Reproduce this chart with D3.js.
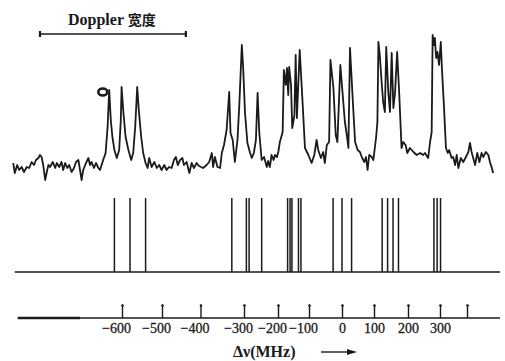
<!DOCTYPE html>
<html>
<head>
<meta charset="utf-8">
<script src="https://cdn.jsdelivr.net/npm/d3@7"></script>
<style>
  body { margin: 0; background: #fff; }
  svg { display: block; }
  text { fill: #1a1a1a; }
</style>
</head>
<body>
<svg id="chart" width="505" height="361"></svg>
<script>
// frequency axis ticks (MHz); the last tick carries no label
const tickValues = [-600, -500, -400, -300, -200, -100, 0, 100, 200, 300, 400];
const tickLabels = ['\u2212600', '\u2212500', '\u2212400', '\u2212300', '\u2212200', '\u2212100', '0', '100', '200', '300', ''];

// calculated components (MHz), all drawn with the same height
const stickFreq = [-619, -580, -541, -328, -293, -285, -248, -169, -161, -155, -134, -126,
  -27, 0, 30, 124, 140, 156, 172, 281, 291, 302];

// recorded trace, [MHz, signal]
const trace = [
  [-872,27],[-868,17],[-862,25],[-857,20],[-851,23],[-845,18],[-838,23],[-832,22],[-826,28],[-820,25],
  [-815,30],[-809,32],[-805,35],[-801,33],[-797,25],[-792,10],[-788,18],[-784,25],[-780,23],[-773,28],
  [-767,22],[-763,27],[-757,23],[-751,28],[-747,20],[-742,27],[-737,22],[-732,25],[-726,18],[-720,22],
  [-715,28],[-709,30],[-705,20],[-701,10],[-697,20],[-690,27],[-684,32],[-680,25],[-676,28],[-670,22],
  [-665,27],[-659,22],[-655,20],[-651,25],[-647,30],[-641,37],[-636,63],[-632,100],[-628,70],[-624,53],
  [-619,40],[-613,32],[-607,40],[-603,70],[-601,103],[-597,80],[-591,53],[-584,40],[-577,30],[-572,37],
  [-567,63],[-562,103],[-558,80],[-552,53],[-547,37],[-541,27],[-536,22],[-532,32],[-526,23],[-519,28],
  [-513,22],[-507,25],[-501,20],
  [-494,25],[-488,20],[-482,23],[-475,22],[-469,30],[-464,33],[-459,25],[-453,30],[-447,32],[-443,25],
  [-436,28],[-429,17],[-423,27],[-417,22],[-410,27],[-404,24],
  [-394,22],[-386,25],[-380,28],[-374,37],[-371,23],[-367,33],[-361,23],[-355,22],[-351,37],[-346,45],
  [-340,60],[-334,98],[-331,57],[-326,50],[-321,28],[-315,50],[-311,83],[-305,145],[-302,123],
  [-297,77],[-290,47],[-282,37],[-277,32],[-271,37],[-265,50],[-260,97],[-255,57],[-248,30],[-241,33],
  [-233,23],[-229,29],[-224,23],[-219,35],[-213,30],[-209,35],[-203,33],
  [-199,38],[-194,48],[-185,58],[-181,120],[-175,105],[-171,122],[-167,95],[-164,123],[-158,105],[-154,62],
  [-147,75],[-143,135],[-139,72],[-130,140],[-122,95],[-113,42],[-102,35],
  [-92,27],[-84,35],[-77,50],[-72,40],[-64,32],[-57,38],[-52,27],[-46,45],[-39,48],[-35,130],
  [-26,102],[-19,55],[-14,48],[-5,125],
  [4,88],[9,68],[15,55],[20,42],[25,142],[35,82],[41,48],[49,40],[56,38],[63,32],
  [70,28],[75,33],[80,20],[85,35],[93,33],[98,30],
  [106,52],[110,68],[113,148],[117,135],[123,105],[127,88],[132,78],[136,143],[142,98],[147,78],
  [152,137],[157,82],[162,98],[168,138],[174,98],[181,42],[186,48],[193,45],[198,37],
  [206,42],[217,38],[227,35],[238,37],[247,35],[253,37],[263,32],[269,48],[274,58],[277,155],
  [281,145],[284,152],[288,132],[292,138],[297,125],
  [303,148],[307,122],[315,82],[322,42],[329,37],[334,40],[343,32],[349,33],[356,25],[362,35],
  [368,22],[377,32],[386,28],[396,33],[405,38],[411,47],[417,38],[423,32],[430,25],[438,37],
  [446,28],[454,37],[460,33],[470,38],[479,35],[485,28],[491,23],[497,17]
];

// Doppler width bar (MHz) and the ink loop on the first peak
const dopplerWidth = [-805, -438];
const penMark = [-648, 98];
const lineExtent = [-868, 522];

const ink = '#1a1a1a';
const svg = d3.select('#chart');

// the printed axis is not quite even, so the scale follows the tick marks
const x = d3.scaleLinear()
  .domain(tickValues)
  .range([122, 162, 200.5, 244, 278, 309, 342, 374, 408, 440, 467]);
const y = d3.scaleLinear().domain([0, 160]).range([190, 30]);
const ys = d3.scaleLinear().domain([0, 1]).range([272, 198]);

// title + Doppler bar
const title = svg.append('text').attr('x', 68).attr('y', 25);
title.append('tspan').attr('font-family', 'Liberation Serif').attr('font-size', 16).attr('font-weight', 700).text('Doppler ');
title.append('tspan').attr('font-family', 'Noto Sans CJK SC').attr('font-size', 14).attr('font-weight', 700).text('宽度');

svg.append('line')
  .attr('x1', x(dopplerWidth[0])).attr('x2', x(dopplerWidth[1]))
  .attr('y1', 34).attr('y2', 34)
  .attr('stroke', ink).attr('stroke-width', 1.6);
svg.selectAll('.cap')
  .data(dopplerWidth)
  .enter()
  .append('line')
  .attr('class', 'cap')
  .attr('x1', d => x(d)).attr('x2', d => x(d))
  .attr('y1', 31).attr('y2', 37)
  .attr('stroke', ink).attr('stroke-width', 2.2);

// recorded trace
svg.append('path')
  .datum(trace)
  .attr('d', d3.line().x(d => x(d[0])).y(d => y(d[1])))
  .attr('fill', 'none')
  .attr('stroke', ink)
  .attr('stroke-width', 1.8)
  .attr('stroke-linejoin', 'round');

svg.append('ellipse')
  .attr('cx', x(penMark[0])).attr('cy', y(penMark[1]))
  .attr('rx', 4.5).attr('ry', 3.5)
  .attr('fill', 'none').attr('stroke', ink).attr('stroke-width', 2.6);

// stick spectrum
svg.append('line')
  .attr('x1', x(lineExtent[0])).attr('x2', x(lineExtent[1]))
  .attr('y1', ys(0)).attr('y2', ys(0))
  .attr('stroke', ink).attr('stroke-width', 1.4);

svg.selectAll('.stick')
  .data(stickFreq)
  .enter()
  .append('line')
  .attr('class', 'stick')
  .attr('x1', d => x(d)).attr('x2', d => x(d))
  .attr('y1', ys(0)).attr('y2', ys(1))
  .attr('stroke', ink).attr('stroke-width', 1.5);

// frequency axis, ticks pointing up, labels below
const axisY = 318;
svg.append('line')
  .attr('x1', x(lineExtent[0]) + 3).attr('x2', x(lineExtent[1]))
  .attr('y1', axisY).attr('y2', axisY)
  .attr('stroke', ink).attr('stroke-width', 1.4);
svg.append('line')
  .attr('x1', x(lineExtent[0]) + 3).attr('x2', x(-705))
  .attr('y1', axisY).attr('y2', axisY)
  .attr('stroke', ink).attr('stroke-width', 2.6);

const axis = svg.append('g')
  .attr('transform', `translate(0,${axisY})`)
  .call(d3.axisBottom(x)
    .tickValues(tickValues)
    .tickSize(-13)
    .tickPadding(5)
    .tickFormat((d, i) => tickLabels[i]));

axis.select('.domain').remove();
axis.selectAll('.tick line').attr('stroke', ink).attr('stroke-width', 1.4);
axis.selectAll('.tick')
  .append('circle')
  .attr('cy', -12.5).attr('r', 1.3)
  .attr('fill', ink);
axis.selectAll('.tick text')
  .attr('font-family', 'Liberation Serif')
  .attr('font-size', 14)
  .attr('fill', ink)
  .attr('stroke', ink)
  .attr('stroke-width', 0.3)
  .attr('dx', d => d < 0 ? -6 : 0);

// axis title with arrow
svg.append('text')
  .attr('x', 233).attr('y', 357)
  .attr('font-family', 'Liberation Serif')
  .attr('font-size', 16)
  .attr('font-weight', 700)
  .text('\u0394\u03bd(MHz)');

svg.append('line')
  .attr('x1', 321).attr('x2', 350)
  .attr('y1', 352).attr('y2', 352)
  .attr('stroke', ink).attr('stroke-width', 1.4);
svg.append('path')
  .attr('d', 'M357,352 L347,349 L347,355 Z')
  .attr('fill', ink);
</script>
</body>
</html>
